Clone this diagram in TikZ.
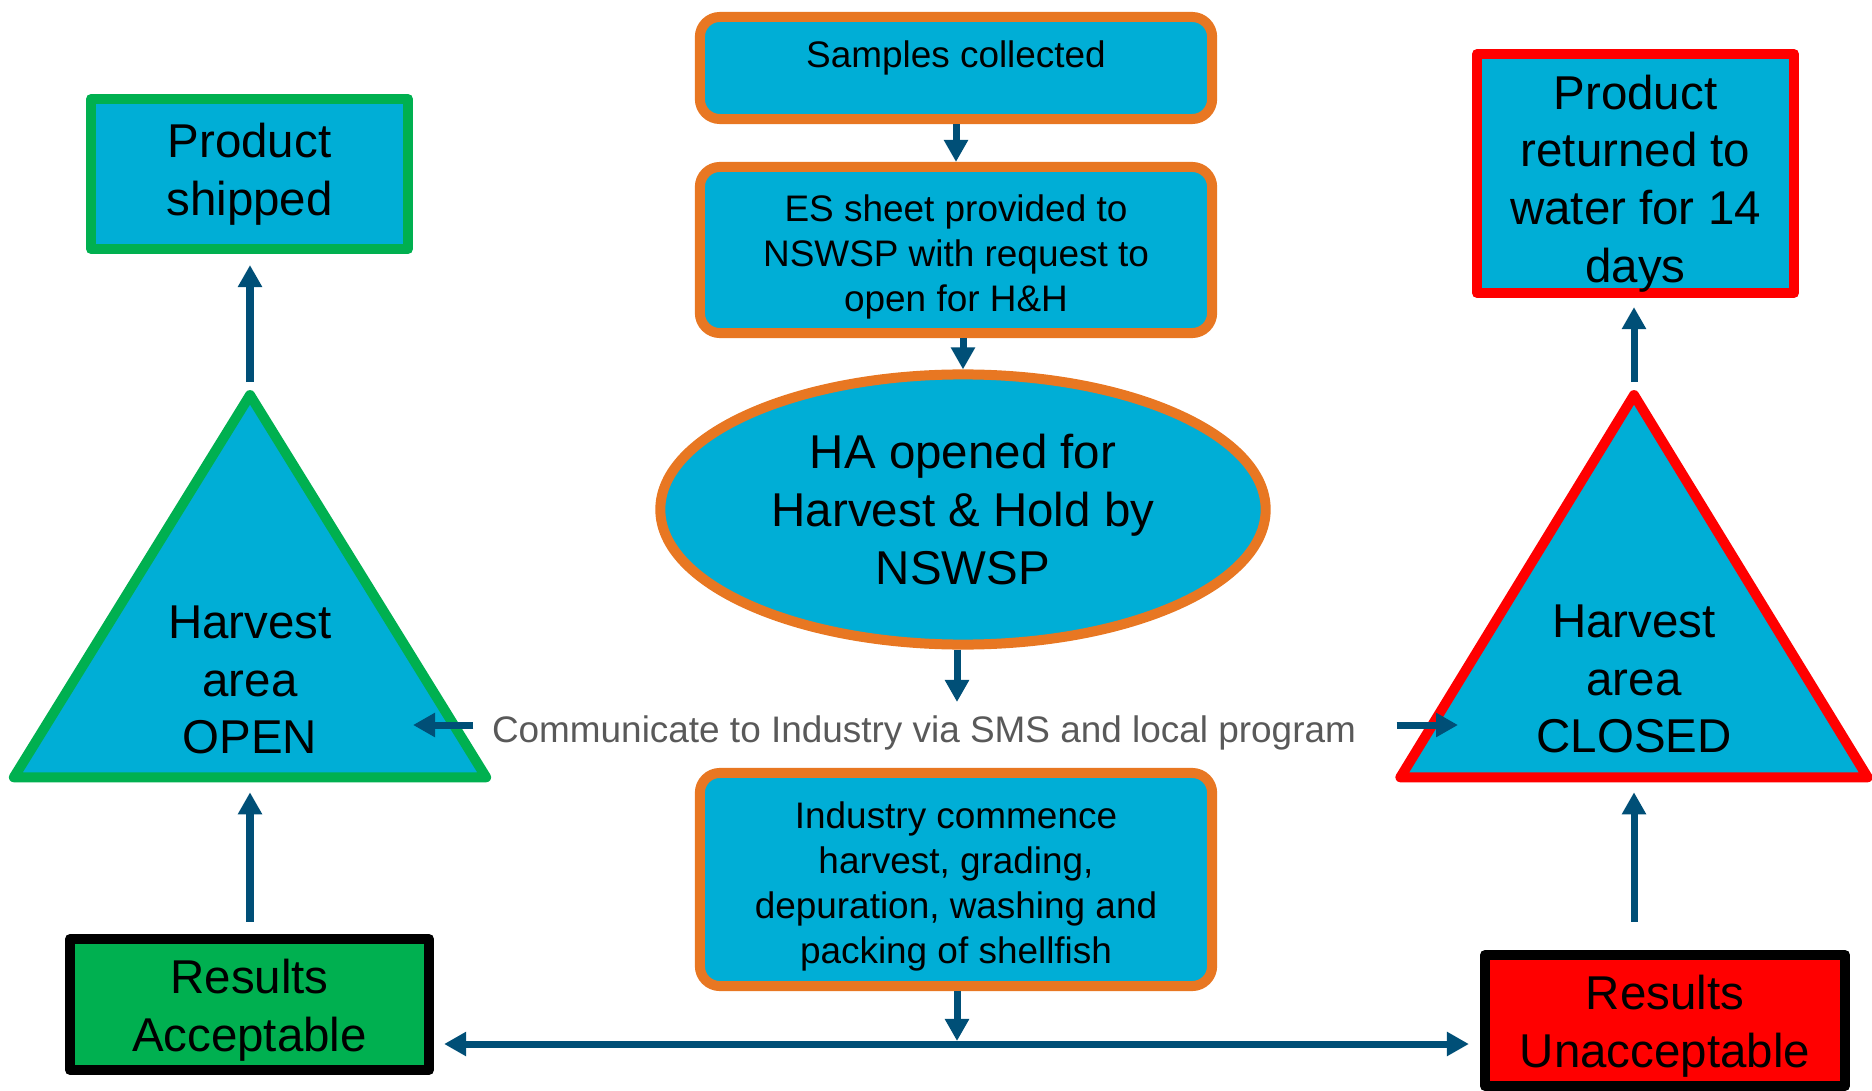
\documentclass[tikz,border=0pt]{standalone}
\usepackage{fontspec}
\setmainfont{Liberation Sans}
\usetikzlibrary{shapes.geometric,arrows.meta}
\definecolor{boxcyan}{RGB}{0,174,214}
\definecolor{edgeorange}{RGB}{232,119,34}
\definecolor{okgreen}{RGB}{0,176,80}
\definecolor{alarmred}{RGB}{255,0,0}
\definecolor{arrowblue}{RGB}{0,79,119}
\definecolor{talkgray}{RGB}{89,89,89}
\newcommand{\dropline}[1]{\rule{0pt}{#1}}

\begin{document}
\begin{tikzpicture}[x=0.01cm,y=-0.01cm,
  smalltxt/.style={font=\fontsize{10.5}{12.75}\selectfont, align=center},
  bigtxt/.style={font=\fontsize{13.5}{16.4}\selectfont, align=center},
  stepbox/.style={draw=edgeorange, line width=0.1cm, fill=boxcyan, rounded corners=0.2cm, minimum width=5.12cm, inner sep=0pt, smalltxt},
  result/.style={draw=black, line width=0.1cm, fill=#1, line join=round, inner sep=0pt, bigtxt},
  outcome/.style={draw=#1, line width=0.1cm, fill=boxcyan, line join=round, inner sep=0pt, bigtxt},
  areatri/.style={draw=#1, line width=0.1cm, fill=boxcyan, isosceles triangle, shape border rotate=90, isosceles triangle stretches, line join=round, inner sep=0pt, minimum height=3.82cm, anchor=apex},
  conn/.style={draw=arrowblue, line width=0.07cm, -{Triangle[width=0.23cm,length=0.22cm]}}]
\useasboundingbox (0,0) rectangle (1872,1091);

\node[stepbox, minimum height=1.02cm, text height=0.3cm, text depth=0.3cm] (samples) at (956,68) {Samples collected};
\node[stepbox, minimum height=1.66cm] (sheet) at (956,250) {\dropline{0.405cm}ES sheet provided to\\NSWSP with request to\\open for H\&H};
\node[ellipse, draw=edgeorange, line width=0.1cm, fill=boxcyan, minimum width=6.05cm, minimum height=2.70cm, inner sep=0pt, bigtxt] (hold) at (963,509.5) {HA opened for\\Harvest \& Hold by\\NSWSP};
\node[stepbox, minimum height=2.13cm] (industry) at (956,879.5) {\dropline{0.405cm}Industry commence\\harvest, grading,\\depuration, washing and\\packing of shellfish};

\node[outcome=okgreen, minimum width=3.17cm, minimum height=1.50cm] (shipped) at (249.5,174) {Product\\shipped};
\node[outcome=alarmred, minimum width=3.17cm, minimum height=2.39cm] (returned) at (1635.5,173.5) {\dropline{0.54cm}Product\\returned to\\water for 14\\days};
\node[result=okgreen, minimum width=3.59cm, minimum height=1.31cm] (accept) at (249.5,1004.5) {\dropline{0.46cm}Results\\Acceptable};
\node[result=alarmred, minimum width=3.60cm, minimum height=1.31cm] (reject) at (1665,1020.5) {\dropline{0.46cm}Results\\Unacceptable};

\node[areatri=okgreen, minimum width=4.72cm] (openTri) at (250,382) {};
\node[bigtxt] (open) at (250,680) {Harvest\\area\\OPEN};
\node[areatri=alarmred, minimum width=4.67cm] (closedTri) at (1634,382) {};
\node[bigtxt] (closed) at (1634,679) {Harvest\\area\\CLOSED};

\node[smalltxt, text=talkgray, anchor=base, inner sep=0pt] (talk) at (924,742) {Communicate to Industry via SMS and local program};

\coordinate (talkDown) at (957,702);
\coordinate (split) at (957,1044);
\coordinate (toOpen) at (413,725);
\coordinate (toClosed) at (1458,725);

\draw[conn] (samples.south) -- (sheet.north);
\draw[conn] (sheet.south -| hold.north) -- (hold.north);
\draw[conn] (hold.south -| talkDown) -- (talkDown);
\draw[conn, shorten >=0.03cm] (industry.south -| split) -- (split);
\draw[conn, {Triangle[width=0.23cm,length=0.22cm]}-{Triangle[width=0.23cm,length=0.22cm]}, shorten <=0.10cm, shorten >=0.11cm] (accept.east |- split) -- (reject.west |- split);

\draw[conn, shorten <=0.18cm] (toOpen -| talk.west) -- (toOpen);
\draw[conn, shorten <=0.40cm] (toClosed -| talk.east) -- (toClosed);

\draw[conn, shorten <=0.12cm, shorten >=0.10cm] (accept.north -| openTri.apex) -- (openTri.lower side);
\draw[conn, shorten >=0.11cm] (openTri.apex) -- (shipped.south -| openTri.apex);
\draw[conn, shorten <=0.28cm, shorten >=0.10cm] (reject.north -| closedTri.apex) -- (closedTri.lower side);
\draw[conn, shorten >=0.09cm] (closedTri.apex) -- (returned.south -| closedTri.apex);
\end{tikzpicture}
\end{document}
